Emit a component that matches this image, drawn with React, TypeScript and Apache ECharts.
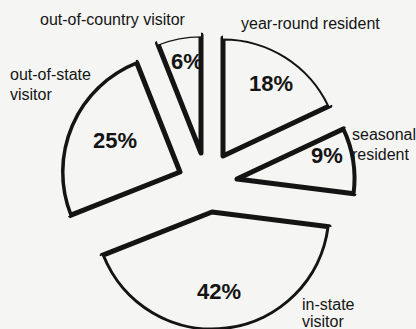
import React, { useEffect, useRef } from 'react';
import * as echarts from 'echarts';

const categories = [
  'year-round resident',
  'seasonal resident',
  'in-state visitor',
  'out-of-state visitor',
  'out-of-country visitor',
];
const shares = [18, 9, 42, 25, 6];

const BG = '#f5f5f3';
const INK = '#141414';
const R = 118;
const EDGE = 5;
const FONT = "'Liberation Sans', Arial, Helvetica, sans-serif";

// per-slice drawing layout (exploded centres, label spots, outline arc widths)
const sliceLayout = [
  { center: [223, 156], pct: [271, 83], arc: 2, name: [241, 23], wrap: false, lh: 20 },
  { center: [237, 179], pct: [327, 155], arc: 4, name: [352, 144], wrap: true, lh: 20 },
  { center: [212, 212], pct: [219, 291], arc: 3, name: [302, 313], wrap: true, lh: 17 },
  { center: [180, 172], pct: [115, 140], arc: 3.5, name: [10, 84], wrap: true, lh: 20 },
  { center: [201, 153], pct: [187, 61], arc: 1.3, name: [40, 19], wrap: false, lh: 20 },
];

export default function App() {
  const ref = useRef<HTMLDivElement>(null);
  useEffect(() => {
    const chart = echarts.init(ref.current!, null, { renderer: 'svg' });
    const hidden = { color: 'rgba(0,0,0,0)', borderWidth: 0 };

    const sliceSeries = sliceLayout.map((lay, k) => ({
      type: 'pie',
      z: 2,
      silent: true,
      center: lay.center,
      radius: [0, R],
      startAngle: 90,
      clockwise: true,
      avoidLabelOverlap: false,
      emphasis: { disabled: true },
      labelLine: { show: false },
      label: {
        position: 'inside',
        formatter: '{c}%',
        fontFamily: FONT,
        fontWeight: 'bold',
        fontSize: 22,
        color: INK,
      },
      labelLayout: { x: lay.pct[0], y: lay.pct[1], align: 'center', verticalAlign: 'middle' },
      data: categories.map((name, i) => ({
        name,
        value: shares[i],
        itemStyle:
          i === k
            ? { color: BG, borderColor: INK, borderWidth: EDGE, borderJoin: 'round', borderCap: 'round' }
            : hidden,
        label: { show: i === k },
      })),
    }));

    const ringSeries = sliceLayout.map((lay, k) => ({
      type: 'pie',
      z: 3,
      silent: true,
      center: lay.center,
      radius: [R - EDGE / 2 + lay.arc, R + 4],
      startAngle: 90,
      clockwise: true,
      emphasis: { disabled: true },
      label: { show: false },
      labelLine: { show: false },
      data: categories.map((name, i) => ({
        name,
        value: shares[i],
        itemStyle: i === k ? { color: BG, borderWidth: 0 } : hidden,
      })),
    }));

    const nameTexts = sliceLayout.map((lay, i) => ({
      type: 'text',
      z: 100,
      x: lay.name[0],
      y: lay.name[1],
      style: {
        text: lay.wrap ? categories[i].replace(' ', '\n') : categories[i],
        fontFamily: FONT,
        fontSize: 16,
        lineHeight: lay.lh,
        fill: INK,
        align: 'left',
        verticalAlign: 'middle',
      },
    }));

    chart.setOption({
      animation: false,
      backgroundColor: BG,
      series: [...sliceSeries, ...ringSeries],
      graphic: { elements: nameTexts },
    });
    return () => chart.dispose();
  }, []);
  return (
    <div
      ref={ref}
      style={{ position: 'fixed', left: 0, top: 0, width: 416, height: 329, background: BG }}
    />
  );
}
